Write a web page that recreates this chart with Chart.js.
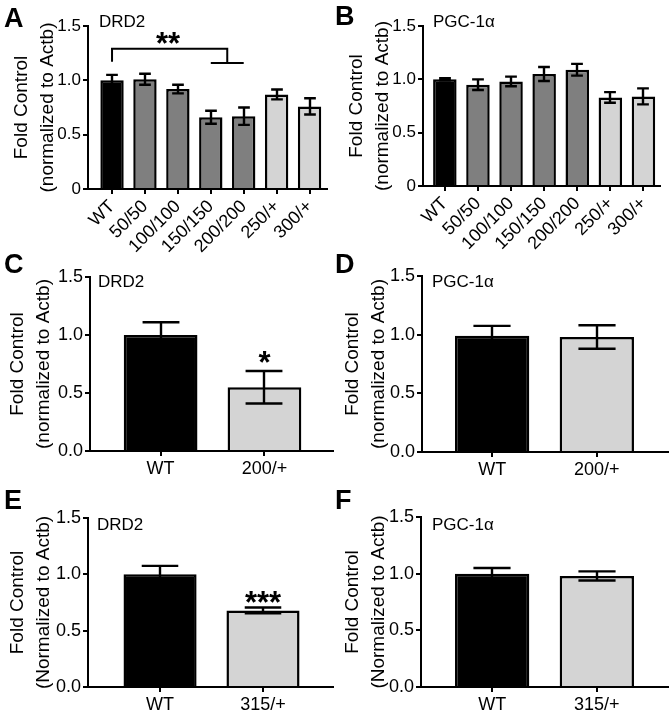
<!DOCTYPE html>
<html><head><meta charset="utf-8">
<script src="https://cdn.jsdelivr.net/npm/chart.js@4.4.1/dist/chart.umd.min.js"></script>
<style>
html,body{margin:0;padding:0;background:#fff;}
#wrap{position:relative;width:671px;height:719px;overflow:hidden;background:#fff;}
canvas{position:absolute;}
</style></head><body><div id="wrap">
<canvas id="cA" width="335" height="265" style="left:0;top:0"></canvas>
<canvas id="cB" width="336" height="265" style="left:335px;top:0"></canvas>
<canvas id="cC" width="335" height="232" style="left:0;top:248px"></canvas>
<canvas id="cD" width="336" height="232" style="left:335px;top:248px"></canvas>
<canvas id="cE" width="335" height="234" style="left:0;top:485px"></canvas>
<canvas id="cF" width="336" height="234" style="left:335px;top:485px"></canvas>
</div>
<script>
// ---- data ----
const catsAB = ['WT', '50/50', '100/100', '150/150', '200/200', '250/+', '300/+'];
const drd2A = [1.00, 1.01, 0.92, 0.66, 0.67, 0.87, 0.76];
const drd2AErr = [0.05, 0.05, 0.04, 0.06, 0.08, 0.045, 0.075];
const pgcB = [1.00, 0.95, 0.98, 1.05, 1.09, 0.83, 0.84];
const pgcBErr = [0.01, 0.05, 0.045, 0.065, 0.055, 0.05, 0.075];
const catsCD = ['WT', '200/+'];
const drd2C = [1.00, 0.55];
const drd2CErr = [0.11, 0.14];
const pgcD = [0.99, 0.98];
const pgcDErr = [0.085, 0.10];
const catsEF = ['WT', '315/+'];
const drd2E = [1.00, 0.68];
const drd2EErr = [0.075, 0.025];
const pgcF = [1.00, 0.98];
const pgcFErr = [0.05, 0.04];
const yTicksAB = ['0', '0.5', '1.0', '1.5'];
const yTicksCF = ['0.0', '0.5', '1.0', '1.5'];
const yTitleLower = ['Fold Control', '(normalized to Actb)'];
const yTitleUpper = ['Fold Control', '(Normalized to Actb)'];

// ---- styling ----
const FONT = "'Liberation Sans', Arial, Helvetica, sans-serif";
Chart.defaults.font.family = FONT;
Chart.defaults.color = '#000';
const INK = '#000';
function barColor(label) {
  if (label === 'WT') return '#000';
  if (label.endsWith('/+')) return '#d4d4d4';
  return '#7f7f7f';
}

const overlay = {
  id: 'overlay',
  afterDatasetsDraw(chart) {
    const o = chart.options.plugins.overlay;
    if (!o) return;
    const ctx = chart.ctx, xs = chart.scales.x, ys = chart.scales.y;
    const meta = chart.getDatasetMeta(0);
    const data = chart.data.datasets[0].data;
    ctx.save();
    ctx.strokeStyle = INK;
    ctx.lineWidth = 2.4;
    ctx.lineCap = 'butt';
    o.err.forEach((e, i) => {
      const bar = meta.data[i];
      const v = data[i].y;
      const x = Math.round(bar.x), w = bar.width * 0.5;
      const yt = ys.getPixelForValue(v + e), yb = ys.getPixelForValue(v - e);
      ctx.beginPath();
      ctx.moveTo(x, yt); ctx.lineTo(x, yb);
      ctx.moveTo(x - w / 2, yt); ctx.lineTo(x + w / 2, yt);
      ctx.moveTo(x - w / 2, yb); ctx.lineTo(x + w / 2, yb);
      ctx.stroke();
    });
    ctx.lineWidth = 2;
    (o.brackets || []).forEach(path => {
      ctx.beginPath();
      path.forEach((p, k) => {
        const px = xs.getPixelForValue(p[0]), py = ys.getPixelForValue(p[1]);
        if (k === 0) ctx.moveTo(px, py); else ctx.lineTo(px, py);
      });
      ctx.stroke();
    });
    ctx.fillStyle = INK;
    ctx.textAlign = 'center';
    ctx.textBaseline = 'alphabetic';
    (o.stars || []).forEach(s => {
      ctx.font = 'bold 31px ' + FONT;
      const px = xs.getPixelForValue(s.x), py = ys.getPixelForValue(s.y);
      ctx.fillText(s.text, px, py + 31 * 0.58);
    });
    ctx.restore();
  },
  afterDraw(chart) {
    const o = chart.options.plugins.overlay;
    if (!o) return;
    const ctx = chart.ctx, ca = chart.chartArea;
    ctx.save();
    ctx.fillStyle = INK;
    ctx.textBaseline = 'alphabetic';
    ctx.textAlign = 'left';
    ctx.font = 'bold 27px ' + FONT;
    ctx.fillText(o.letter.text, o.letter.x, o.letter.y);
    ctx.font = '17px ' + FONT;
    ctx.fillText(o.title.text, ca.left + o.title.dx, ca.top + o.title.dy);
    ctx.restore();
  }
};

function makePanel(id, p) {
  const rot = p.rotate ? 45 : 0;
  new Chart(document.getElementById(id), {
    type: 'bar',
    data: {
      datasets: [{
        data: p.vals.map((v, i) => ({ x: i, y: v })),
        backgroundColor: p.cats.map(barColor),
        borderColor: INK,
        borderWidth: 2.5,
        barPercentage: 0.71,
        categoryPercentage: 1
      }]
    },
    options: {
      responsive: false,
      animation: false,
      devicePixelRatio: 1,
      layout: { padding: { top: p.box.top, right: p.box.right, left: 0, bottom: 0 } },
      plugins: {
        legend: { display: false },
        tooltip: { enabled: false },
        overlay: { err: p.errs, letter: p.letter, title: p.title, stars: p.stars, brackets: p.brackets }
      },
      scales: {
        x: {
          type: 'linear', min: p.box.xmin, max: p.box.xmax, offset: false,
          afterBuildTicks: s => { s.ticks = p.cats.map((c, i) => ({ value: i })); },
          afterFit: s => { s.height = p.box.xh; },
          grid: { display: true, drawOnChartArea: false, drawTicks: true, tickLength: 5, color: INK, lineWidth: 2, offset: false },
          border: { display: true, color: INK, width: 2 },
          ticks: { autoSkip: false, maxRotation: rot, minRotation: rot, padding: 2, color: '#000',
                   font: { size: p.xFont }, callback: v => p.cats[Math.round(v)] }
        },
        y: {
          min: 0, max: 1.5,
          afterFit: s => { s.width = p.box.yw; },
          ticks: { stepSize: 0.5, padding: 2, color: '#000', font: { size: p.tickFont },
                   callback: v => p.yLabels[Math.round(v * 2)] },
          grid: { display: true, drawOnChartArea: false, drawTicks: true, tickLength: 5, color: INK, lineWidth: 2 },
          border: { display: true, color: INK, width: 2 },
          title: { display: true, text: p.yTitle, color: '#000', font: { size: 19, lineHeight: 1.35 },
                   padding: { top: p.box.tp, bottom: 0 } }
        }
      }
    },
    plugins: [overlay]
  });
}

makePanel('cA', {
  cats: catsAB, vals: drd2A, errs: drd2AErr, yLabels: yTicksAB, yTitle: yTitleLower,
  rotate: true, tickFont: 17, xFont: 18,
  box: { top: 26, right: 8, yw: 88, xh: 76, xmin: -0.73, xmax: 6.53, tp: 9 },
  letter: { text: 'A', x: 4, y: 27 }, title: { text: 'DRD2', dx: 11, dy: 1 },
  brackets: [[[0, 1.17], [0, 1.29], [3.5, 1.29], [3.5, 1.16]], [[3, 1.16], [4, 1.16]]],
  stars: [{ x: 1.7, y: 1.41, text: '**' }]
});
makePanel('cB', {
  cats: catsAB, vals: pgcB, errs: pgcBErr, yLabels: yTicksAB, yTitle: yTitleLower,
  rotate: true, tickFont: 17, xFont: 18,
  box: { top: 26, right: 11, yw: 88, xh: 79, xmin: -0.66, xmax: 6.5, tp: 9 },
  letter: { text: 'B', x: 0, y: 25 }, title: { text: 'PGC-1α', dx: 10, dy: 1 }
});
makePanel('cC', {
  cats: catsCD, vals: drd2C, errs: drd2CErr, yLabels: yTicksCF, yTitle: yTitleLower,
  rotate: false, tickFont: 18, xFont: 18,
  box: { top: 29, right: 2, yw: 90, xh: 29, xmin: -0.68, xmax: 1.66, tp: 5 },
  letter: { text: 'C', x: 4, y: 25 }, title: { text: 'DRD2', dx: 8, dy: 10 },
  stars: [{ x: 1, y: 0.83, text: '*' }]
});
makePanel('cD', {
  cats: catsCD, vals: pgcD, errs: pgcDErr, yLabels: yTicksCF, yTitle: yTitleLower,
  rotate: false, tickFont: 18, xFont: 18,
  box: { top: 28, right: 3, yw: 87, xh: 28, xmin: -0.67, xmax: 1.68, tp: 5 },
  letter: { text: 'D', x: 0, y: 25 }, title: { text: 'PGC-1α', dx: 10, dy: 11 }
});
makePanel('cE', {
  cats: catsEF, vals: drd2E, errs: drd2EErr, yLabels: yTicksCF, yTitle: yTitleUpper,
  rotate: false, tickFont: 18, xFont: 18,
  box: { top: 33, right: 2, yw: 88, xh: 32, xmin: -0.7, xmax: 1.68, tp: 5 },
  letter: { text: 'E', x: 4, y: 24 }, title: { text: 'DRD2', dx: 9, dy: 12 },
  stars: [{ x: 1, y: 0.82, text: '***' }]
});
makePanel('cF', {
  cats: catsEF, vals: pgcF, errs: pgcFErr, yLabels: yTicksCF, yTitle: yTitleUpper,
  rotate: false, tickFont: 18, xFont: 18,
  box: { top: 32, right: 3, yw: 86, xh: 32, xmin: -0.68, xmax: 1.68, tp: 5 },
  letter: { text: 'F', x: 0, y: 24 }, title: { text: 'PGC-1α', dx: 11, dy: 13 }
});
</script>
</body></html>
